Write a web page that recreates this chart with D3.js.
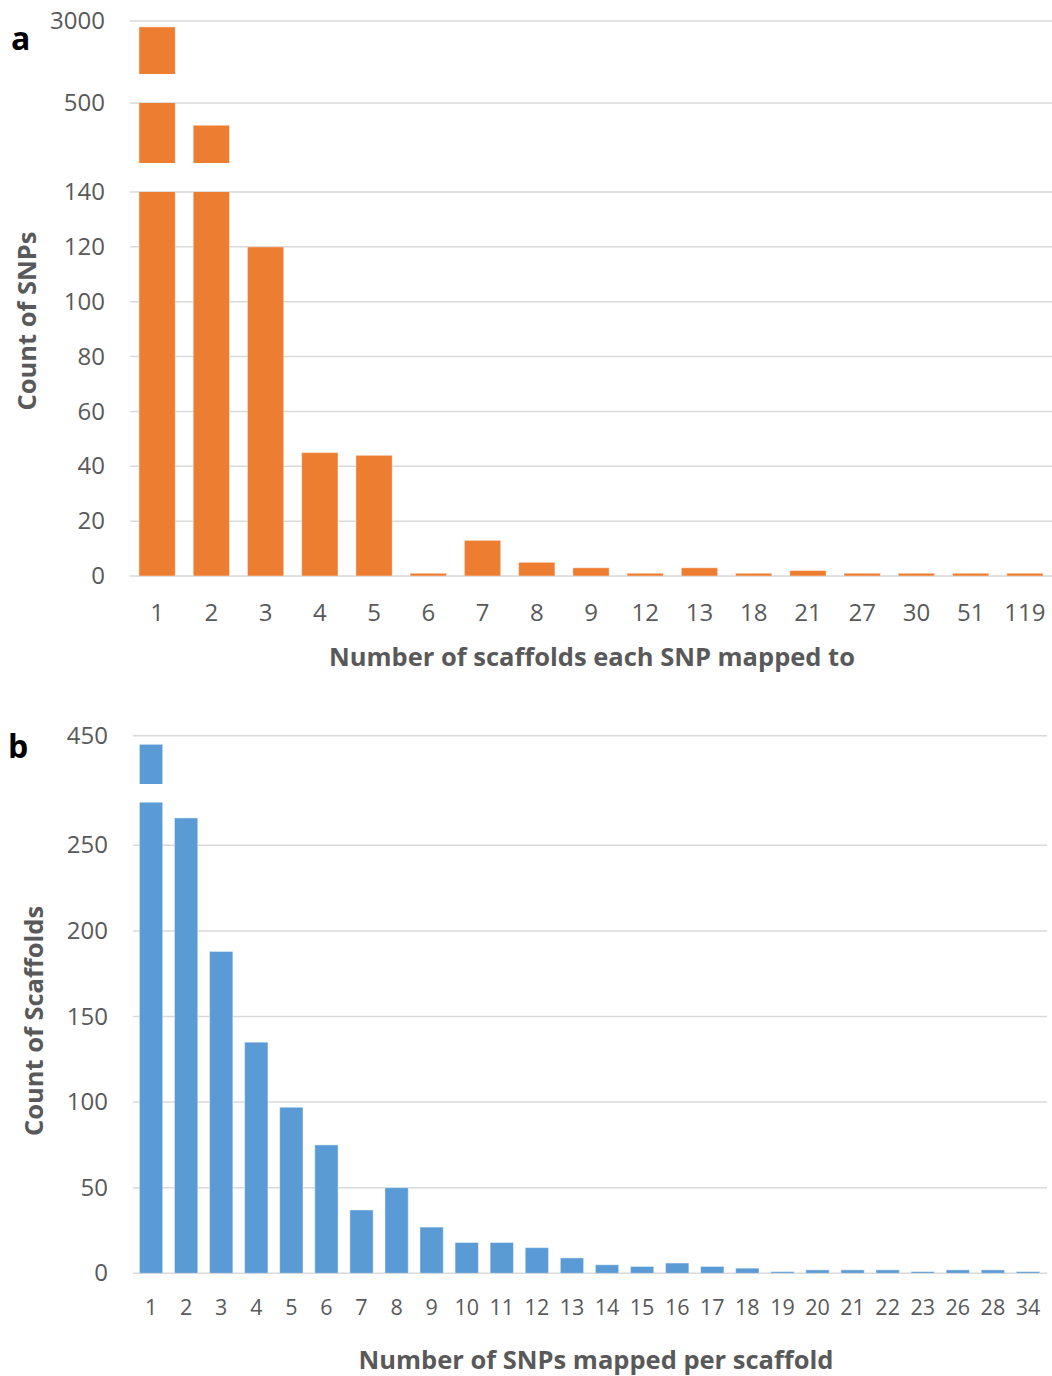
<!DOCTYPE html>
<html>
<head>
<meta charset="utf-8">
<script src="https://cdn.jsdelivr.net/npm/d3@7"></script>
<style>
  html, body { margin: 0; padding: 0; background: #fff; }
  svg { display: block; }
  text { font-family: "Open Sans", "Noto Sans", sans-serif; }
</style>
</head>
<body>
<svg id="chart" width="1052" height="1376"></svg>
<script>
// Panel a: how many scaffolds each SNP maps to
const snpCategories = ["1", "2", "3", "4", "5", "6", "7", "8", "9", "12", "13", "18", "21", "27", "30", "51", "119"];
const snpCounts = [2820, 410, 120, 45, 44, 1, 13, 5, 3, 1, 3, 1, 2, 1, 1, 1, 1];
const snpTicks = [0, 20, 40, 60, 80, 100, 120, 140, 500, 3000];

// Panel b: how many SNPs land on each scaffold
const scaffoldCategories = ["1", "2", "3", "4", "5", "6", "7", "8", "9", "10", "11", "12", "13", "14", "15", "16", "17", "18", "19", "20", "21", "22", "23", "26", "28", "34"];
const scaffoldCounts = [445, 266, 188, 135, 97, 75, 37, 50, 27, 18, 18, 15, 9, 5, 4, 6, 4, 3, 1, 2, 2, 2, 1, 2, 2, 1];
const scaffoldTicks = [0, 50, 100, 150, 200, 250, 450];

const svg = d3.select("#chart");
const GRID = "#d9d9d9";
const TEXT = "#595959";

// Draws one bar panel on a broken (piecewise linear) value axis.
// `bands` lists the pixel spans where bars may show; the space between them is the axis break.
function drawPanel(opts) {
  const g = svg.append("g");
  const x = d3.scaleBand()
    .domain(opts.categories)
    .range(opts.xRange)
    .paddingInner(opts.padding)
    .paddingOuter(opts.padding / 2);

  const y = d3.scaleLinear().domain(opts.yDomain).range(opts.yRange);

  // gridlines
  g.append("g").selectAll("line")
    .data(opts.ticks)
    .join("line")
    .attr("x1", opts.gridRange[0])
    .attr("x2", opts.gridRange[1])
    .attr("y1", d => y(d))
    .attr("y2", d => y(d))
    .attr("stroke", GRID)
    .attr("stroke-width", 1.5);

  // y tick labels (axis line hidden)
  const yAxis = d3.axisLeft(y).tickValues(opts.ticks).tickFormat(d3.format("d")).tickSize(0).tickPadding(0);
  const ya = g.append("g")
    .attr("transform", `translate(${opts.yLabelX},0)`)
    .call(yAxis);
  ya.select(".domain").remove();
  ya.selectAll("text")
    .attr("fill", TEXT)
    .style("font-size", opts.yTickSize + "px")
    .style("font-family", "'Open Sans', sans-serif");

  // clip paths for each visible band of the broken axis
  const bands = opts.bands(y);
  bands.forEach((b, i) => {
    const id = `${opts.id}-band-${i}`;
    svg.append("clipPath").attr("id", id)
      .append("rect")
      .attr("x", 0).attr("width", 1052)
      .attr("y", Math.min(b[0], b[1]))
      .attr("height", Math.abs(b[1] - b[0]));
    g.append("g")
      .attr("clip-path", `url(#${id})`)
      .selectAll("rect")
      .data(opts.values)
      .join("rect")
      .attr("x", (d, j) => x(opts.categories[j]))
      .attr("width", x.bandwidth())
      .attr("y", d => y(d))
      .attr("height", d => y(0) - y(d))
      .attr("fill", opts.color)
      .attr("stroke", "rgba(255,255,255,0.45)")
      .attr("stroke-width", 1);
  });

  // x tick labels
  const xAxis = d3.axisBottom(x).tickSize(0).tickPadding(0);
  const xa = g.append("g")
    .attr("transform", `translate(0,${opts.xLabelY})`)
    .call(xAxis);
  xa.select(".domain").remove();
  xa.selectAll("text")
    .attr("fill", TEXT)
    .attr("dy", "0.35em")
    .style("font-size", opts.xTickSize + "px")
    .style("font-family", "'Open Sans', sans-serif");

  // axis titles
  g.append("text")
    .attr("x", opts.xTitlePos[0])
    .attr("y", opts.xTitlePos[1])
    .attr("text-anchor", "middle")
    .attr("dy", "0.35em")
    .attr("fill", TEXT)
    .style("font-weight", "bold")
    .style("font-size", opts.titleSize + "px")
    .text(opts.xTitle);

  g.append("text")
    .attr("transform", `translate(${opts.yTitlePos[0]},${opts.yTitlePos[1]}) rotate(-90)`)
    .attr("text-anchor", "middle")
    .attr("dy", "0.35em")
    .attr("fill", TEXT)
    .style("font-weight", "bold")
    .style("font-size", opts.titleSize + "px")
    .text(opts.yTitle);

  // panel letter
  g.append("text")
    .attr("x", opts.letterPos[0])
    .attr("y", opts.letterPos[1])
    .attr("fill", "#000")
    .style("font-weight", "bold")
    .style("font-size", "32px")
    .text(opts.letter);
}

drawPanel({
  id: "snp",
  categories: snpCategories,
  values: snpCounts,
  ticks: snpTicks,
  xRange: [130, 1052],
  gridRange: [130, 1052],
  padding: 0.33,
  yDomain: [0, 140, 500, 3000],
  yRange: [576, 192, 103, 21],
  bands: y => [
    [y(0), y(140)],
    [y(140) - 29, y(500)],
    [y(500) - 29, 0]
  ],
  yLabelX: 105,
  yTickSize: 24,
  xLabelY: 613,
  xTickSize: 24,
  color: "#ED7D31",
  xTitle: "Number of scaffolds each SNP mapped to",
  xTitlePos: [592, 657],
  yTitle: "Count of SNPs",
  yTitlePos: [27, 321],
  titleSize: 25.5,
  letter: "a",
  letterPos: [11, 50]
});

drawPanel({
  id: "scaf",
  categories: scaffoldCategories,
  values: scaffoldCounts,
  ticks: scaffoldTicks,
  xRange: [133.5, 1045.5],
  gridRange: [133, 1047],
  padding: 0.335,
  yDomain: [0, 275, 422, 450],
  yRange: [1273.3, 802.5, 784, 735.7],
  bands: y => [
    [y(0), y(275)],
    [y(422), 700]
  ],
  yLabelX: 108,
  yTickSize: 24,
  xLabelY: 1307,
  xTickSize: 21.5,
  color: "#5B9BD5",
  xTitle: "Number of SNPs mapped per scaffold",
  xTitlePos: [596, 1360],
  yTitle: "Count of Scaffolds",
  yTitlePos: [34, 1021],
  titleSize: 25.5,
  letter: "b",
  letterPos: [8, 758]
});
</script>
</body>
</html>
